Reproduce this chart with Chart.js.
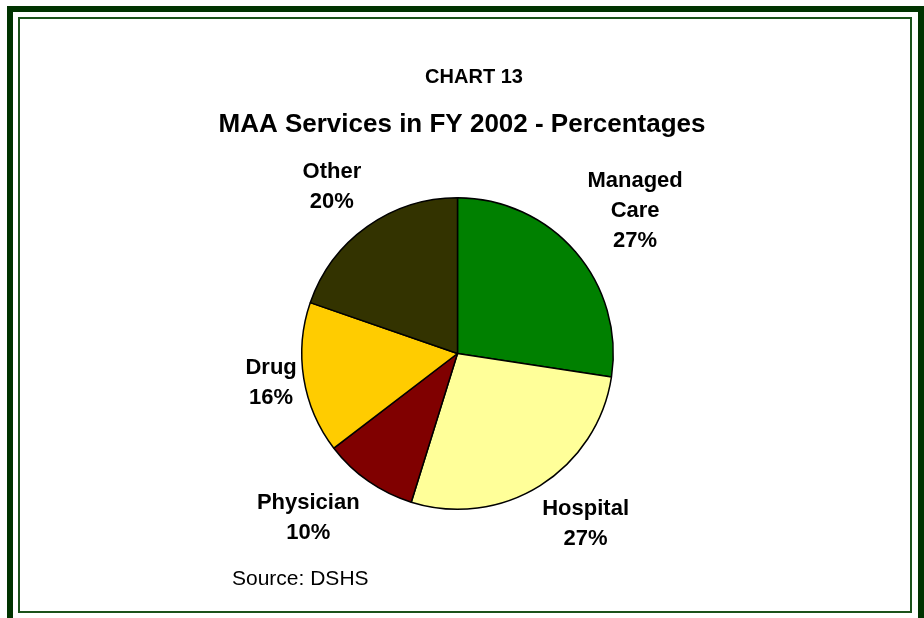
<!DOCTYPE html>
<html>
<head>
<meta charset="utf-8">
<title>CHART 13 - MAA Services in FY 2002</title>
<script src="https://cdn.jsdelivr.net/npm/chart.js@4.4.1/dist/chart.umd.min.js"></script>
<style>
    html, body { margin: 0; padding: 0; background: #ffffff; }
    body { width: 924px; height: 618px; position: relative; overflow: hidden; }
    .outer-frame {
        position: absolute; left: 7px; top: 6px; width: 917px; height: 620px;
        border: 6px solid #003300; box-sizing: border-box;
    }
    .inner-frame {
        position: absolute; left: 18px; top: 17px; width: 894px; height: 596px;
        border: 2px solid #1b521b; box-sizing: border-box;
    }
    #chart { position: absolute; left: 0; top: 0; }
</style>
</head>
<body>
<div class="outer-frame"></div>
<div class="inner-frame"></div>
<canvas id="chart" width="924" height="618"></canvas>

<script>
// Chart data
const chartNumber = 'CHART 13';
const chartTitle = 'MAA Services in FY 2002 - Percentages';
const sourceNote = 'Source: DSHS';
const categories = ['Managed Care', 'Hospital', 'Physician', 'Drug', 'Other'];
const labelLines = [['Managed', 'Care'], ['Hospital'], ['Physician'], ['Drug'], ['Other']];
const shares = [27.4, 27.4, 9.8, 15.7, 19.7];
const sliceColors = ['#008000', '#ffff99', '#800000', '#ffcc00', '#333300'];

// small nudges for the data labels (px), like Excel's best-fit placement
const labelNudge = [[3, 8], [15, -10], [-24, -15], [6, -2], [-6, 1]];

const FONT = '"Liberation Sans", Arial, sans-serif';

/**
 * Draws titles, slice labels and the source note
 */
const textPlugin = {
    id: 'chartText',
    afterDraw(chart) {
        const ctx = chart.ctx;
        ctx.save();
        ctx.fillStyle = '#000000';
        ctx.textAlign = 'center';
        ctx.textBaseline = 'middle';

        ctx.font = 'bold 20px ' + FONT;
        ctx.fillText(chartNumber, 474, 77);
        ctx.font = 'bold 26px ' + FONT;
        ctx.fillText(chartTitle, 462, 125);

        // Slice labels, pushed just outside each slice along its mid angle
        const meta = chart.getDatasetMeta(0);
        const total = shares.reduce((a, b) => a + b, 0);
        const lineH = 30;
        const gap = 9;
        ctx.font = 'bold 22px ' + FONT;
        meta.data.forEach((arc, i) => {
            const lines = labelLines[i].concat([Math.round(shares[i] / total * 100) + '%']);
            const w = Math.max(...lines.map(l => ctx.measureText(l).width));
            const h = lines.length * lineH;
            const mid = (arc.startAngle + arc.endAngle) / 2;
            const cx = Math.cos(mid), cy = Math.sin(mid);
            const extent = Math.abs(cx) * w / 2 + Math.abs(cy) * h / 2;
            const dist = arc.outerRadius + gap + extent;
            const lx = arc.x + cx * dist + labelNudge[i][0];
            const ly = arc.y + cy * dist + labelNudge[i][1];
            lines.forEach((line, j) => {
                ctx.fillText(line, lx, ly - h / 2 + lineH * (j + 0.5));
            });
        });

        ctx.textAlign = 'left';
        ctx.font = '21px ' + FONT;
        ctx.fillText(sourceNote, 232, 579);
        ctx.restore();
    }
};

new Chart(document.getElementById('chart'), {
    type: 'pie',
    data: {
        labels: categories,
        datasets: [{
            data: shares,
            backgroundColor: sliceColors,
            borderColor: '#000000',
            borderWidth: 1.5
        }]
    },
    options: {
        responsive: false,
        animation: false,
        layout: {
            padding: { left: 301, right: 310, top: 197, bottom: 108 }
        },
        plugins: {
            legend: { display: false },
            tooltip: { enabled: false },
            title: { display: false }
        }
    },
    plugins: [textPlugin]
});
</script>
</body>
</html>
